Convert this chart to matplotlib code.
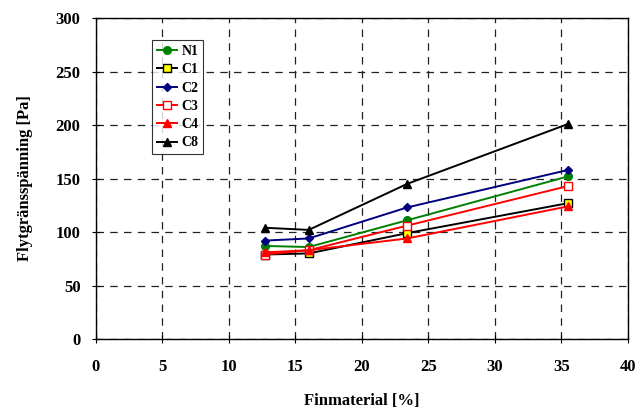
import matplotlib
matplotlib.use("Agg")
import matplotlib.pyplot as plt

# fine material content [%] and yield stress [Pa]
x = [12.7, 16.0, 23.4, 35.5]
n1 = [87, 86, 111, 152]
c1 = [79, 80, 99, 127]
c2 = [92, 94, 123, 158]
c3 = [79, 83, 106, 143]
c4 = [81, 83, 94, 124]
c8 = [104, 102, 145, 201]

xticks = [0, 5, 10, 15, 20, 25, 30, 35, 40]
yticks = [0, 50, 100, 150, 200, 250, 300]

plt.rcParams['font.family'] = ['Liberation Serif', 'DejaVu Serif']
plt.rcParams['font.weight'] = 'bold'

fig = plt.figure(figsize=(6.35, 4.09), dpi=100)
ax = fig.add_axes([0.151, 0.171, 0.838, 0.785])

ax.plot(x, n1, color='green', marker='o', markersize=5.5, lw=1.4, label='N1')
ax.plot(x, c1, color='black', marker='s', markersize=5.5, mfc='yellow', mec='black', lw=1.4, label='C1')
ax.plot(x, c2, color='navy', marker='D', markersize=4.5, lw=1.4, label='C2')
ax.plot(x, c3, color='red', marker='s', markersize=5.5, mfc='white', mec='red', lw=1.4, label='C3')
ax.plot(x, c4, color='red', marker='^', markersize=5.5, lw=1.4, label='C4')
ax.plot(x, c8, color='black', marker='^', markersize=5.5, lw=1.4, label='C8')

ax.set_xlim(0, 40)
ax.set_ylim(0, 300)
ax.set_xticks(xticks)
ax.set_yticks(yticks)
ax.tick_params(direction='inout', length=6, labelsize=12)
ax.tick_params(axis='x', pad=11)
ax.tick_params(axis='y', pad=8)
ax.grid(True, color='#222222', linestyle=(0, (6, 5)), linewidth=0.9)
for s in ax.spines.values():
    s.set_linewidth(1.0)

ax.set_xlabel('Finmaterial [%]', fontsize=12, fontweight='bold', labelpad=13)
ax.set_ylabel('Flytgränsspänning [Pa]', fontsize=12, fontweight='bold', labelpad=16)

leg = ax.legend(loc='upper left', bbox_to_anchor=(0.105, 0.931), borderaxespad=0,
                fontsize=10, frameon=True, fancybox=False, edgecolor='black',
                handlelength=1.5, borderpad=0.35, labelspacing=0.38, handletextpad=0.3)
leg.get_frame().set_linewidth(0.8)

fig.savefig('out.png', dpi=100)
